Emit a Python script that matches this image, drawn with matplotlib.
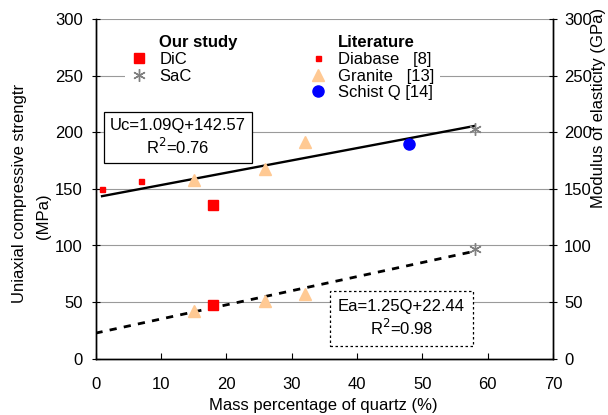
import matplotlib
matplotlib.use("Agg")
import matplotlib.pyplot as plt
from matplotlib.lines import Line2D

plt.rcParams["font.family"] = ["Liberation Sans", "DejaVu Sans"]
plt.rcParams["font.size"] = 12

# ─── Données ─────────────────────────────────────────────────────────────────
# Our study
dic_q   = [18]
dic_uc  = [136]
dic_ea  = [47]
sac_q   = [58]
sac_uc  = [203]
sac_ea  = [97]

# Literature
diabase_q  = [1, 7]
diabase_uc = [150, 157]
granite_q  = [15, 26, 32]
granite_uc = [158, 168, 192]
granite_ea = [42, 51, 57]
schist_q   = [48]
schist_uc  = [190]

# Régressions
uc_pente, uc_ordo = 1.09, 142.57
ea_pente, ea_ordo = 1.25, 22.44
uc_q_range = [1, 58]
ea_q_range = [0, 58]

x_ticks = [0, 10, 20, 30, 40, 50, 60, 70]
y_ticks = [0, 50, 100, 150, 200, 250, 300]

GRANITE = "#FFC993"

# ─── Figure ──────────────────────────────────────────────────────────────────
fig = plt.figure(figsize=(6.08, 4.15), dpi=100)
ax = fig.add_axes([95.5 / 608, 1 - 358.5 / 415, 457.5 / 608, 339 / 415])
ax2 = ax.twinx()

ax.set_xlim(0, 70)
ax.set_ylim(0, 300)
ax2.set_ylim(0, 300)
ax.set_xticks(x_ticks)
ax.set_yticks(y_ticks)
ax2.set_yticks(y_ticks)

for a in (ax, ax2):
    a.spines["top"].set_visible(False)
    for s in ("left", "right", "bottom"):
        a.spines[s].set_linewidth(1.0)
ax.tick_params(axis="x", direction="in", length=4, width=0.8, pad=13.5)
ax.tick_params(axis="y", direction="inout", length=6, width=0.8, pad=6)
ax2.tick_params(axis="y", direction="inout", length=6, width=0.8, pad=5)

# grille horizontale
for yv in y_ticks[1:]:
    ax.axhline(yv, color="#9a9a9a", lw=0.8, zorder=0)

# courbes de tendance
uc_fit = [uc_pente * q + uc_ordo for q in uc_q_range]
ea_fit = [ea_pente * q + ea_ordo for q in ea_q_range]
ax.plot(uc_q_range, uc_fit, color="black", lw=1.7, zorder=3)
ax.plot(ea_q_range, ea_fit, color="black", lw=2.0, ls=(0, (2.6, 2.6)), zorder=3)

# points UCS
ax.plot(diabase_q, diabase_uc, "s", color="red", ms=3.6, zorder=4)
ax.plot(granite_q, granite_uc, "^", color=GRANITE, ms=9, zorder=4)
ax.plot(schist_q, schist_uc, "o", color="blue", ms=8, zorder=4)
ax.plot(dic_q, dic_uc, "s", color="red", ms=6.5, zorder=4)
ax.plot(sac_q, sac_uc, marker=(6, 2, 0), ls="none", color="gray", ms=9, mew=1, zorder=4)

# points module
ax.plot(granite_q, granite_ea, "^", color=GRANITE, ms=9, zorder=4)
ax.plot(dic_q, dic_ea, "s", color="red", ms=6.5, zorder=4)
ax.plot(sac_q, sac_ea, marker=(6, 2, 0), ls="none", color="gray", ms=9, mew=1, zorder=4)

# ─── Boîtes d'équations ──────────────────────────────────────────────────────
ax.text(12.6, 195.5, "Uc=1.09Q+142.57\nR$^2$=0.76", ha="center", va="center",
        linespacing=1.2, zorder=6,
        bbox=dict(boxstyle="square,pad=0.35", fc="white", ec="black", lw=0.9))
ax.text(46.8, 35.5, "Ea=1.25Q+22.44\nR$^2$=0.98", ha="center", va="center",
        linespacing=1.2, zorder=6,
        bbox=dict(boxstyle="square,pad=0.5", fc="white", ec="black", lw=0.9,
                  ls=(0, (2, 2))))

# ─── Légende ─────────────────────────────────────────────────────────────────
vide = Line2D([], [], ls="none")
handles = [
    vide,
    Line2D([], [], ls="none", marker="s", color="red", ms=6.5),
    Line2D([], [], ls="none", marker=(6, 2, 0), color="gray", ms=9, mew=1),
    vide,
    vide,
    Line2D([], [], ls="none", marker="s", color="red", ms=3.6),
    Line2D([], [], ls="none", marker="^", color=GRANITE, ms=9),
    Line2D([], [], ls="none", marker="o", color="blue", ms=8),
]
labels = ["Our study", "DiC", "SaC", " ",
          "Literature", "Diabase   [8]", "Granite   [13]", "Schist Q [14]"]
leg = ax.legend(handles, labels, ncol=2, loc="upper left",
                bbox_to_anchor=(29.5 / 457.5, 1 - 10 / 339),
                frameon=True, fancybox=False, edgecolor="none", facecolor="white",
                framealpha=1, handlelength=1.0, handletextpad=0.7,
                columnspacing=4.3, labelspacing=0.1, borderpad=0.35,
                borderaxespad=0)
leg.set_zorder(5)
for t in leg.get_texts():
    if t.get_text() in ("Our study", "Literature"):
        t.set_fontweight("bold")

# ─── Titres d'axes ───────────────────────────────────────────────────────────
fig.text(323 / 608, 1 - 405 / 415, "Mass percentage of quartz (%)",
         ha="center", va="center")
fig.text(20 / 608, 1 - 193 / 415, "Uniaxial compressive strengtr",
         rotation=90, ha="center", va="center")
fig.text(43 / 608, 1 - 216 / 415, "(MPa)", rotation=90, ha="center", va="center")
fig.text(599 / 608, 1 - 108 / 415, "Modulus of elasticity (GPa)",
         rotation=90, ha="center", va="center")

fig.savefig("out.png", dpi=100)
